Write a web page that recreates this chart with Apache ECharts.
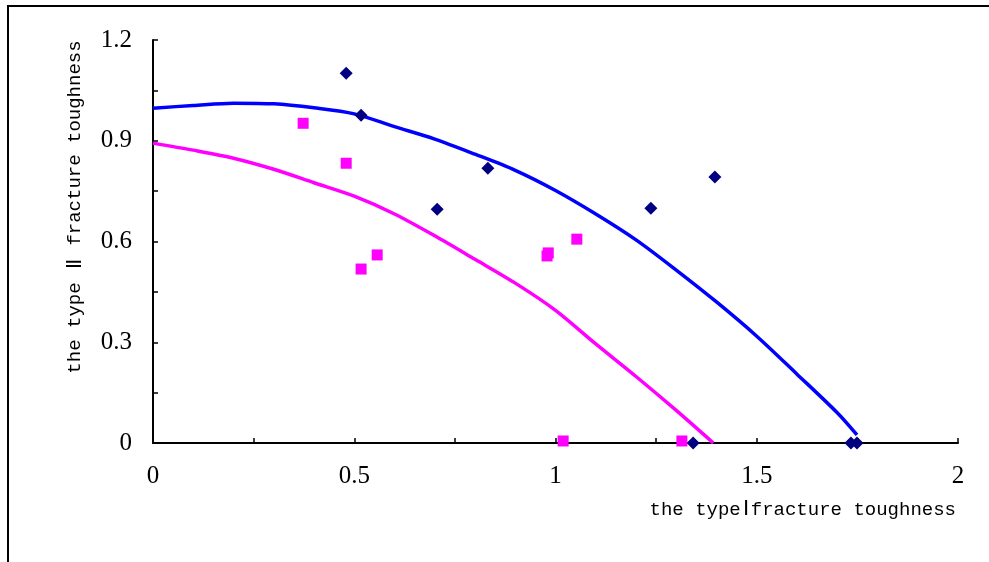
<!DOCTYPE html>
<html>
<head>
<meta charset="utf-8">
<script src="https://cdn.jsdelivr.net/npm/echarts@6/dist/echarts.min.js"></script>
<style>
  html, body { margin: 0; padding: 0; background: #fff; }
  #main { width: 989px; height: 562px; }
</style>
</head>
<body>
<div id="main"></div>
<script>
// type I toughness (x) / type II toughness (y)
var blueCurveX = [0, 0.1, 0.2, 0.3, 0.4, 0.5, 0.6, 0.7, 0.8, 0.9, 1.0, 1.1, 1.2, 1.3, 1.4, 1.5, 1.6, 1.7, 1.749];
var blueCurveY = [0.997, 1.005, 1.012, 1.010, 0.998, 0.980, 0.942, 0.905, 0.860, 0.812, 0.752, 0.682, 0.605, 0.515, 0.420, 0.318, 0.205, 0.090, 0.024];

var pinkCurveX = [0, 0.1, 0.2, 0.3, 0.4, 0.5, 0.6, 0.7, 0.8, 0.9, 1.0, 1.1, 1.2, 1.3, 1.392];
var pinkCurveY = [0.893, 0.872, 0.848, 0.815, 0.775, 0.735, 0.682, 0.617, 0.547, 0.476, 0.395, 0.295, 0.198, 0.097, 0];

var diamondX = [0.48, 0.517, 0.706, 0.832, 1.237, 1.396, 1.342, 1.734, 1.749];
var diamondY = [1.101, 0.976, 0.696, 0.818, 0.699, 0.792, 0, 0, 0];

var squareX = [0.373, 0.48, 0.517, 0.557, 0.979, 0.982, 1.053, 1.019, 1.314];
var squareY = [0.952, 0.833, 0.518, 0.560, 0.557, 0.566, 0.607, 0.006, 0.006];

// axis titles: {a|} latin part, {b|} roman numeral
var xTitle = '{a|the type}{b|\u2160}{a|fracture toughness}';
var yTitle = '{a|the type }{b|\u2161}{a| fracture toughness}';

function pairs(xs, ys) {
    var out = [];
    for (var i = 0; i < xs.length; i++) out.push([xs[i], ys[i]]);
    return out;
}
function stepLabel(step) {
    return function (v) {
        var k = v / step;
        if (Math.abs(k - Math.round(k)) > 1e-6) return '';
        return String(Math.round(v * 10) / 10);
    };
}

var chart = echarts.init(document.getElementById('main'));
var labelFont = 'Liberation Serif';
var titleRich = {
    a: { fontFamily: 'Liberation Mono', fontSize: 19, color: '#000' },
    b: { fontFamily: 'Liberation Serif', fontSize: 21, color: '#000', padding: [0, 2, 0, 2] }
};
var option = {
    animation: false,
    backgroundColor: '#fff',
    grid: { left: 153, top: 40, right: 31, bottom: 119 },
    xAxis: {
        type: 'value',
        min: 0,
        max: 2,
        interval: 0.25,
        axisLine: { show: true, lineStyle: { color: '#000', width: 2 } },
        axisTick: { show: true, inside: true, length: 5, lineStyle: { color: '#000', width: 1.5 } },
        splitLine: { show: false },
        axisLabel: {
            color: '#000', fontFamily: labelFont, fontSize: 25, margin: 21,
            formatter: stepLabel(0.5)
        },
        name: xTitle,
        nameLocation: 'end',
        nameGap: -2,
        nameTextStyle: {
            color: '#000', fontFamily: 'Liberation Mono', fontSize: 19,
            align: 'right', verticalAlign: 'top', padding: [56, 0, 0, 0],
            rich: titleRich
        }
    },
    yAxis: {
        type: 'value',
        min: 0,
        max: 1.2,
        interval: 0.15,
        axisLine: { show: true, lineStyle: { color: '#000', width: 2 } },
        axisTick: { show: true, inside: true, length: 5, lineStyle: { color: '#000', width: 1.5 } },
        splitLine: { show: false },
        axisLabel: {
            color: '#000', fontFamily: labelFont, fontSize: 25, margin: 21,
            formatter: stepLabel(0.3)
        }
    },
    graphic: [
        {
            type: 'polyline',
            shape: { points: [[8, 562], [8, 6], [989, 6]] },
            style: { stroke: '#000', lineWidth: 2, fill: null }
        },
        {
            type: 'text',
            x: 75, y: 207,
            rotation: Math.PI / 2,
            style: {
                text: yTitle, fill: '#000', font: '19px "Liberation Mono"',
                align: 'center', verticalAlign: 'middle',
                rich: titleRich
            }
        }
    ],
    series: [
        {
            type: 'line',
            data: pairs(blueCurveX, blueCurveY),
            smooth: 0.3,
            showSymbol: false,
            lineStyle: { color: '#0000ff', width: 3.5 },
            z: 2
        },
        {
            type: 'line',
            data: pairs(pinkCurveX, pinkCurveY),
            smooth: 0.3,
            showSymbol: false,
            lineStyle: { color: '#ff00ff', width: 3.5 },
            z: 2
        },
        {
            type: 'scatter',
            data: pairs(diamondX, diamondY),
            symbol: 'diamond',
            symbolSize: 13,
            itemStyle: { color: '#000080', opacity: 1 },
            z: 3
        },
        {
            type: 'scatter',
            data: pairs(squareX, squareY),
            symbol: 'rect',
            symbolSize: 11,
            itemStyle: { color: '#ff00ff', opacity: 1 },
            z: 3
        }
    ]
};
chart.setOption(option);
window.addEventListener('resize', function () {
    chart.resize();
});
</script>
</body>
</html>
